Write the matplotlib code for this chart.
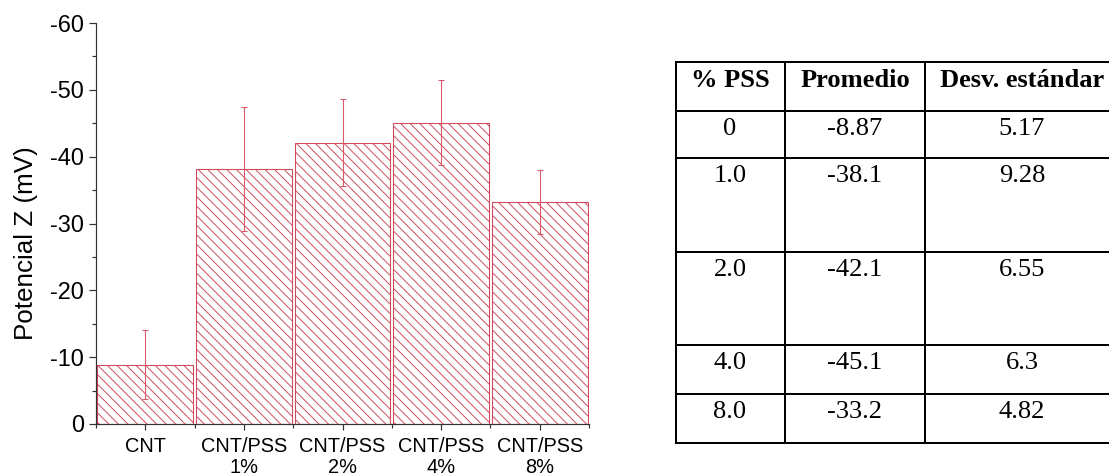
import numpy as np
import matplotlib
matplotlib.use('Agg')
import matplotlib.pyplot as plt
from matplotlib.lines import Line2D
from matplotlib.ticker import FixedLocator, MultipleLocator

# ---------------- data ----------------
categories = ['CNT', 'CNT/PSS\n1%', 'CNT/PSS\n2%', 'CNT/PSS\n4%', 'CNT/PSS\n8%']
promedio = [-8.87, -38.1, -42.1, -45.1, -33.2]
desv = [5.17, 9.28, 6.55, 6.3, 4.82]
yticks = [0, -10, -20, -30, -40, -50, -60]

table_header = ['% PSS', 'Promedio', 'Desv. estándar']
pss_labels = ['0', '1.0', '2.0', '4.0', '8.0']
promedio_labels = ['-8.87', '-38.1', '-42.1', '-45.1', '-33.2']
desv_labels = ['5.17', '9.28', '6.55', '6.3', '4.82']

# ---------------- layout ----------------
W, H = 1109, 476
DPI = 86
def pt(px):
    return px * 72.0 / DPI
def fx(px):
    return px / W
def fy(py):
    return 1 - py / H

plt.rcParams['axes.unicode_minus'] = False
plt.rcParams['font.family'] = ['Liberation Sans', 'DejaVu Sans']
plt.rcParams['hatch.linewidth'] = 0.8

RED = '#cf4a5c'
AXC = '#333333'

fig = plt.figure(figsize=(W / DPI, H / DPI), dpi=DPI)
fig.patch.set_facecolor('white')

ax = fig.add_axes([fx(96), fy(424), fx(589 - 96), (424 - 23) / H])
x = np.arange(1, len(categories) + 1)
ax.bar(x, promedio, width=0.97, facecolor='white', edgecolor=RED,
       hatch='\\\\\\', linewidth=0.9, zorder=2)
ax.errorbar(x, promedio, yerr=desv, fmt='none', ecolor='#d9596a', elinewidth=0.9,
            capsize=pt(3), capthick=0.9, zorder=3)

ax.set_xlim(0.5, 5.5)
ax.set_ylim(0, -60)
for s in ['top', 'right']:
    ax.spines[s].set_visible(False)
for s in ['left', 'bottom']:
    ax.spines[s].set_color(AXC)
    ax.spines[s].set_linewidth(1.0)

ax.xaxis.set_major_locator(FixedLocator(x))
ax.set_xticklabels(categories, fontsize=pt(20), linespacing=1.12)
ax.xaxis.set_minor_locator(FixedLocator(np.arange(0.5, 6.0, 1.0)))
ax.set_yticks(yticks)
ax.set_yticklabels([str(v) for v in yticks], fontsize=pt(23.5))
ax.yaxis.set_minor_locator(MultipleLocator(5))

ax.tick_params(axis='x', which='major', length=pt(6), width=1.0, color=AXC,
               direction='out', pad=pt(7))
ax.tick_params(axis='x', which='minor', length=pt(4), width=1.0, color=AXC,
               direction='out')
ax.tick_params(axis='y', which='major', length=pt(7), width=1.0, color=AXC,
               direction='out', pad=pt(5))
ax.tick_params(axis='y', which='minor', length=pt(4), width=1.0, color=AXC,
               direction='out')

ax.set_ylabel('Potencial Z (mV)', fontsize=pt(26))
ax.yaxis.set_label_coords((38 - 96) / 493, (424 - 243) / 401)

# ---------------- table ----------------
row_lines = [62, 111, 158, 252, 345, 394, 443]
col_lines = [676, 785, 925, 1119]
col_centers = [730, 855, 1022]
LW = pt(2)

for yl in row_lines:
    fig.add_artist(Line2D([fx(col_lines[0]), fx(col_lines[-1])], [fy(yl), fy(yl)],
                          color='black', lw=LW, solid_capstyle='projecting'))
for xl in col_lines:
    fig.add_artist(Line2D([fx(xl), fx(xl)], [fy(row_lines[0]), fy(row_lines[-1])],
                          color='black', lw=LW, solid_capstyle='projecting'))

serif = ['Liberation Serif', 'DejaVu Serif']
TFS = pt(26.5)
for txt, cx in zip(table_header, col_centers):
    fig.text(fx(cx), fy(row_lines[0] + 18), txt, ha='center', va='center',
             fontsize=TFS, fontweight='bold', family=serif)
for i in range(len(pss_labels)):
    ty = fy(row_lines[i + 1] + 18)
    for txt, cx in zip([pss_labels[i], promedio_labels[i], desv_labels[i]], col_centers):
        fig.text(fx(cx), ty, txt, ha='center', va='center', fontsize=TFS, family=serif)

fig.savefig('out.png', dpi=DPI)
